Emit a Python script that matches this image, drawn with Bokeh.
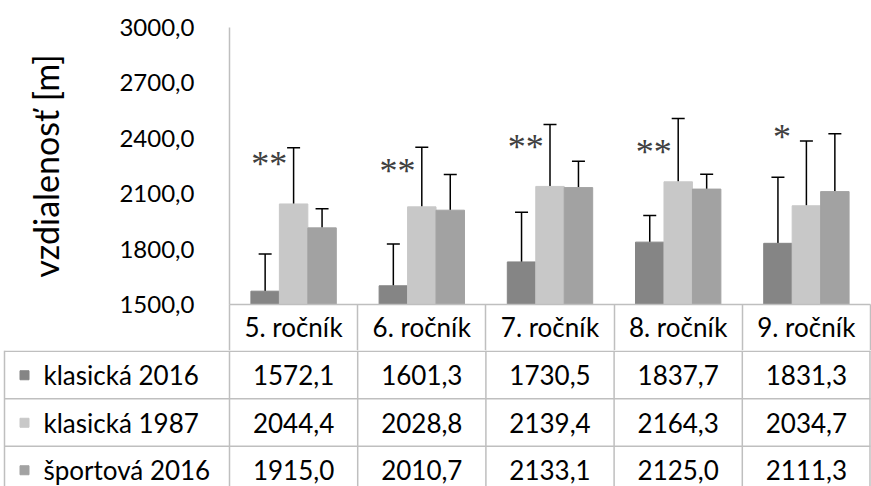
from bokeh.plotting import figure
from bokeh.layouts import column
from bokeh.models import (Range1d, ColumnDataSource, Whisker, TeeHead, FixedTicker)
from bokeh.transform import dodge
from bokeh.core.properties import value
from bokeh.embed import file_html
from bokeh.resources import INLINE

categories = ["5. ročník", "6. ročník", "7. ročník", "8. ročník", "9. ročník"]
series_names = ["klasická 2016", "klasická 1987", "športová 2016"]
klasicka_2016 = [1572.1, 1601.3, 1730.5, 1837.7, 1831.3]
klasicka_1987 = [2044.4, 2028.8, 2139.4, 2164.3, 2034.7]
sportova_2016 = [1915.0, 2010.7, 2133.1, 2125.0, 2111.3]
err_top_2016 = [1774, 1828, 1999, 1982, 2189]
err_top_1987 = [2349, 2352, 2475, 2507, 2385]
err_top_sport = [2018, 2204, 2276, 2205, 2425]
stars = ["**", "**", "**", "**", "*"]
star_y = [2285, 2242, 2373, 2345, 2427]
y_ticks = [1500, 1800, 2100, 2400, 2700, 3000]
y_tick_labels = ["1500,0", "1800,0", "2100,0", "2400,0", "2700,0", "3000,0"]
y_title = "vzdialenosť [m]"

colors = ["#858585", "#c8c8c8", "#a2a2a2"]
series_vals = [klasicka_2016, klasicka_1987, sportova_2016]
series_err = [err_top_2016, err_top_1987, err_top_sport]
offsets = [-0.222, 0.0, 0.222]
FONT = "Lato"
LINE_COL = "#bfbfbf"

W = 871
LEFT = 229
HEADER_H = 46
TOP_H = 350
TAB_H = 136
n = len(categories)
idx = list(range(n))

p = figure(x_range=Range1d(-1e-6, n + 1e-6), y_range=Range1d(1500, 3000),
           width=W, height=TOP_H, output_backend="svg", toolbar_location=None,
           min_border_left=LEFT, min_border_right=1,
           min_border_top=27, min_border_bottom=HEADER_H, frame_align=False)
p.outline_line_color = None
p.grid.visible = False

ax = p.yaxis[0]
ax.ticker = FixedTicker(ticks=y_ticks)
ax.major_label_overrides = {t: l for t, l in zip(y_ticks, y_tick_labels)}
ax.major_tick_line_color = None
ax.minor_tick_line_color = None
ax.axis_line_color = LINE_COL
ax.axis_line_width = 1.5
ax.major_label_standoff = 29
ax.major_label_text_font = FONT
ax.major_label_text_font_size = "24px"
ax.major_label_text_color = "black"
ax.axis_label = y_title
ax.axis_label_text_font = FONT
ax.axis_label_text_font_size = "34px"
ax.axis_label_text_font_style = "normal"
ax.axis_label_text_color = "black"
ax.axis_label_standoff = 50

# header row of the data table: category names on the x axis, cell borders as minor ticks
hdr = p.xaxis[0]
hdr.ticker = FixedTicker(ticks=[i + 0.5 for i in idx], minor_ticks=list(range(n + 1)))
hdr.major_label_overrides = {i + 0.5: c for i, c in zip(idx, categories)}
hdr.major_tick_line_color = None
hdr.major_tick_in = 0
hdr.major_tick_out = 0
hdr.minor_tick_line_color = LINE_COL
hdr.minor_tick_line_width = 1.5
hdr.minor_tick_in = 0
hdr.minor_tick_out = HEADER_H
hdr.axis_line_color = LINE_COL
hdr.axis_line_width = 1.5
hdr.major_label_standoff = -40
hdr.major_label_text_font = FONT
hdr.major_label_text_font_size = "26px"
hdr.major_label_text_color = "black"

for vals, errs, col, off in zip(series_vals, series_err, colors, offsets):
    src = ColumnDataSource(dict(idx=idx, val=vals, err=errs))
    xpos = dodge("idx", 0.5 + off)
    p.vbar(x=xpos, top="val", bottom=1500, width=0.222,
           source=src, fill_color=col, line_color=col)
    w = Whisker(base=xpos, upper="err", lower="val", source=src,
                line_color="black", line_width=1.5,
                upper_head=TeeHead(size=13, line_color="black", line_width=1.5), lower_head=None)
    p.add_layout(w)

star_src = ColumnDataSource(dict(idx=idx, sy=star_y, st=stars))
p.text(x=dodge("idx", 0.5 - 0.19), y="sy", text="st", source=star_src,
       text_font=value("Liberation Serif"), text_font_size="36px", text_align="center",
       text_baseline="middle", y_offset=4, text_color="#404040")

# ---- data table rows below the chart ----
unit = (W - LEFT - 1) / n
x_left = -LEFT / unit
x_right = n + 1 / unit
t = figure(x_range=Range1d(x_left, x_right), y_range=Range1d(TAB_H, 0),
           width=W, height=TAB_H, output_backend="svg", toolbar_location=None,
           x_axis_location=None, y_axis_location=None,
           min_border_left=0, min_border_right=0, min_border_top=0, min_border_bottom=0,
           frame_align=False)
t.outline_line_color = None
t.grid.visible = False

row_h = 47.5
x0s, x1s, y0s, y1s = [], [], [], []
for i in range(n + 1):
    xx = i if i < n else n - 0.004
    x0s.append(xx); x1s.append(xx); y0s.append(0); y1s.append(TAB_H)
left_edge = x_left + 4 / unit
x0s.append(left_edge); x1s.append(left_edge); y0s.append(0); y1s.append(TAB_H)
for r in range(len(series_names) + 1):
    yy = 0.75 + r * row_h
    x0s.append(left_edge); x1s.append(n); y0s.append(yy); y1s.append(yy)
t.segment(x0=x0s, y0=y0s, x1=x1s, y1=y1s, line_color=LINE_COL, line_width=1.5)

xc = [i + 0.5 for i in idx]
for r, (name, vals, col) in enumerate(zip(series_names, series_vals, colors)):
    yc = r * row_h + row_h / 2 + 1
    labels = [f"{v:.1f}".replace(".", ",") for v in vals]
    t.text(x=xc, y=[yc] * n, text=labels, text_font=value(FONT), text_font_size="26px",
           text_align="center", text_baseline="middle", text_color="black")
    t.text(x=[x_left + 43 / unit], y=[yc], text=[name], text_font=value(FONT),
           text_font_size="26px", text_align="left", text_baseline="middle", text_color="black")
    t.scatter(x=[x_left + 24 / unit], y=[yc], marker="square", size=9, fill_color=col,
              line_color=col)

layout = column(p, t, spacing=0)
open("out.html", "w").write(file_html(layout, INLINE))
